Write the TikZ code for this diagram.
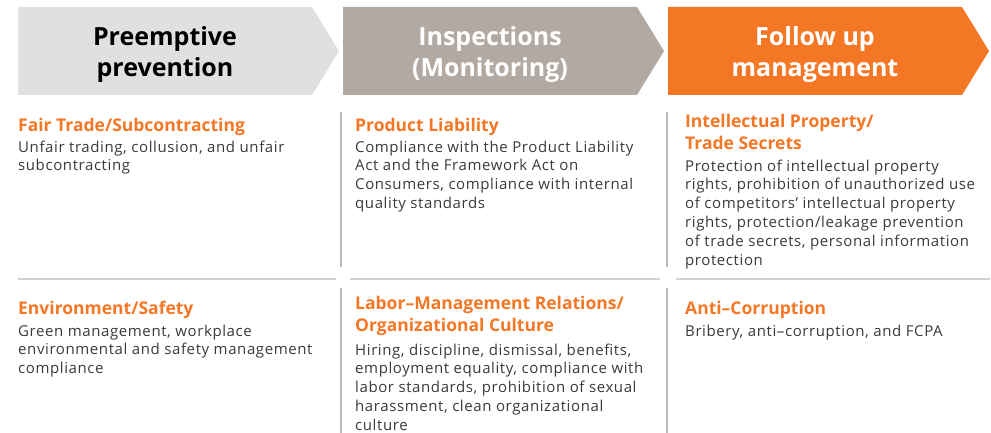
\documentclass[tikz,border=0pt]{standalone}
\usepackage{fontspec}
\setmainfont{Open Sans}
\newfontfamily\bodyfont{Open Sans}[LetterSpace=4]
\definecolor{arrA}{HTML}{E1E0DF}
\definecolor{arrB}{HTML}{B2A9A3}
\definecolor{arrC}{HTML}{F47725}
\definecolor{ttl}{HTML}{F47725}
\definecolor{bodyc}{HTML}{3A3A3A}
\definecolor{vline}{HTML}{C2B9B3}
\definecolor{hline}{HTML}{D2D2D2}
\begin{document}
\begin{tikzpicture}[x=1pt,y=-1pt,
  hdr/.style={align=center,font={\fontsize{25}{31}\selectfont\bfseries},inner sep=0pt},
  ttlbox/.style={anchor=north west,align=left,inner sep=0pt,text=ttl,font={\fontsize{17.5}{22}\selectfont\bfseries}},
  bodybox/.style={anchor=north west,align=left,inner sep=0pt,text=bodyc,font={\bodyfont\fontsize{15}{18.8}\selectfont}},
  vsep/.style={draw=vline,line width=1.5pt},
  hsep/.style={draw=hline,line width=1.5pt}]
\useasboundingbox (0,0) rectangle (991,433);
% header arrows
\fill[arrA] (18,7) -- (312,7) -- (339,51) -- (312,95) -- (18,95) -- cycle;
\fill[arrB] (343,7) -- (637,7) -- (664,51) -- (637,95) -- (343,95) -- cycle;
\fill[arrC] (668,7) -- (962,7) -- (989,51) -- (962,95) -- (668,95) -- cycle;
\node[hdr,text=black] (h1) at (165,55) {Preemptive\\prevention};
\node[hdr,text=white] (h2) at (490,55) {Inspections\\(Monitoring)};
\node[hdr,text=white] (h3) at (815,55) {Follow up\\management};
% separators
\draw[vsep] (341,112) -- (341,267);
\draw[vsep] (667,112) -- (667,267);
\draw[vsep] (341,288) -- (341,433);
\draw[vsep] (667,288) -- (667,433);
\draw[hsep] (18,279) -- (336,279);
\draw[hsep] (350,279) -- (660,279);
\draw[hsep] (676,279) -- (990,279);
% column 1  (top = baseline - 0.7*baselineskip)
\node[ttlbox] (t11) at (18,115.6) {\strut Fair Trade/Subcontracting};
\node[bodybox] (b11) at (18,138.8) {\strut Unfair trading, collusion, and unfair\\subcontracting};
\node[ttlbox] (t12) at (18,298.6) {\strut Environment/Safety};
\node[bodybox] (b12) at (18,322.8) {\strut Green management, workplace\\environmental and safety management\\compliance};
% column 2
\node[ttlbox] (t21) at (355,115.6) {\strut Product Liability};
\node[bodybox] (b21) at (355,138.8) {\strut Compliance with the Product Liability\\Act and the Framework Act on\\Consumers, compliance with internal\\quality standards};
\node[ttlbox] (t22) at (355,293.6) {\strut Labor–Management Relations/\\Organizational Culture};
\node[bodybox] (b22) at (355,341.8) {\strut Hiring, discipline, dismissal, benefits,\\employment equality, compliance with\\labor standards, prohibition of sexual\\harassment, clean organizational\\culture};
% column 3
\node[ttlbox] (t31) at (685,111.6) {\strut Intellectual Property/\\Trade Secrets};
\node[bodybox] (b31) at (685,157.8) {\strut Protection of intellectual property\\rights, prohibition of unauthorized use\\of competitors’ intellectual property\\rights, protection/leakage prevention\\of trade secrets, personal information\\protection};
\node[ttlbox] (t32) at (685,298.6) {\strut Anti–Corruption};
\node[bodybox] (b32) at (685,322.8) {\strut Bribery, anti–corruption, and FCPA};
\end{tikzpicture}
\end{document}
